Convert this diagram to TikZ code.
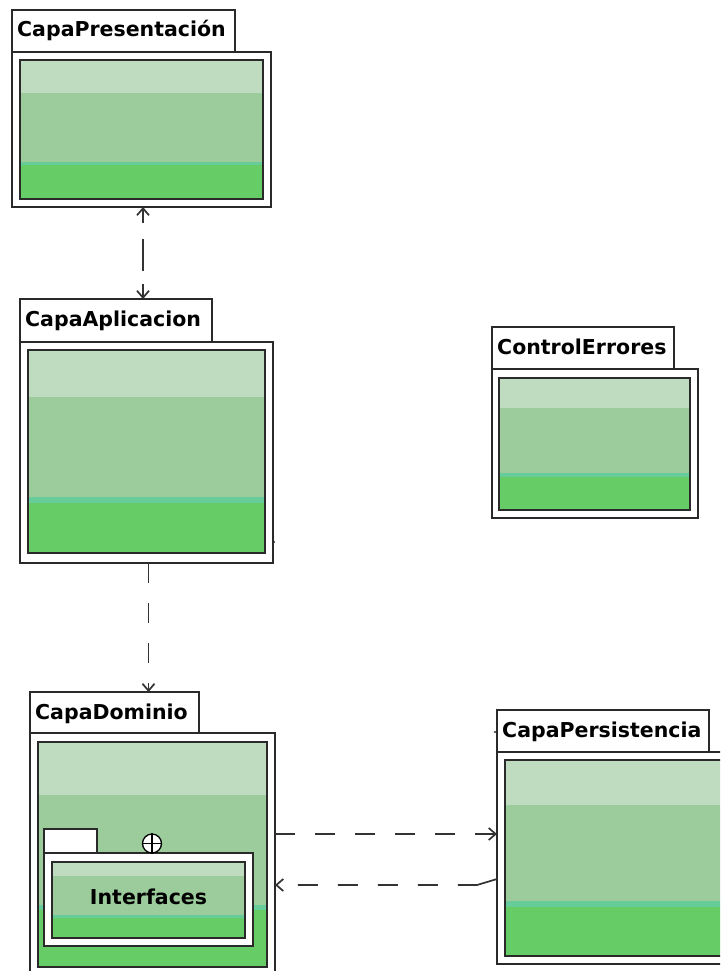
\documentclass[tikz,border=0pt]{standalone}
\usepackage{fontspec}
\setmainfont{DejaVu Sans}
\usetikzlibrary{arrows.meta,fit}

\definecolor{bandlight}{HTML}{C0DCC0}
\definecolor{bandmid}{HTML}{9CCC9C}
\definecolor{bandteal}{HTML}{66CC99}
\definecolor{bandgreen}{HTML}{66CC66}
\definecolor{edge}{HTML}{2A2A2A}

\tikzset{
  pkgbox/.style={draw=edge, line width=1.6pt, fill=white, inner sep=0pt, outer sep=0pt},
  pkglabel/.style={font=\bfseries\fontsize{20.5}{24}\selectfont, inner sep=0pt, text=black},
  innerframe/.style={draw=edge, line width=1.6pt},
  dep/.style={draw=black!80, line width=1.7pt, dash pattern=on 20pt off 20pt},
}

% UML package: tab + body, with its name in the tab
% #1 id, #2 name, #3/#4 tab left/top, #5/#6 tab right/bottom, #7/#8 body right/bottom
\newcommand\umlpkg[8]{%
  \node[pkgbox, fit={(#3,#4)(#5,#6)}] (#1tab) {};
  \node[pkgbox, fit={(#3,#6)(#7,#8)}] (#1) {};
  \node[pkglabel, anchor=base west] (#1lbl) at (#3+5,#4+27) {#2};
}

% coloured compartments inside a package body
% #1..#4 inner frame, #5 end of light band, #6/#7 thin teal band
\newcommand\pkgbands[7]{%
  \fill[bandlight] (#1,#2) rectangle (#3,#5);
  \fill[bandmid] (#1,#5) rectangle (#3,#6);
  \fill[bandteal] (#1,#6) rectangle (#3,#7);
  \fill[bandgreen] (#1,#7) rectangle (#3,#4);
  \draw[innerframe] (#1,#2) rectangle (#3,#4);
}

\begin{document}
\begin{tikzpicture}[x=1pt, y=-1pt, >={Straight Barb[length=7pt,width=12pt]}]
\clip (0,0) rectangle (720,971);
\fill[white] (0,0) rectangle (720,971);

% packages
\umlpkg{pres}{CapaPresentación}{12}{10}{235}{52}{271}{207}
\pkgbands{20}{60}{263}{199}{93}{162}{165}

\umlpkg{apl}{CapaAplicacion}{20}{299}{212}{342}{273}{563}
\pkgbands{28}{350}{265}{553}{397}{497}{503}

\umlpkg{err}{ControlErrores}{492}{327}{674}{369}{698}{518}
\pkgbands{499}{378}{690}{510}{408}{473}{477}

\umlpkg{dom}{CapaDominio}{30}{692}{199}{733}{275}{976}
\pkgbands{38}{742}{267}{967}{795}{905}{910}

\umlpkg{pers}{CapaPersistencia}{497}{710}{709}{752}{740}{964}
\pkgbands{505}{760}{740}{956}{805}{901}{907}

% nested package Interfaces
\node[pkgbox, fit={(44,829)(97,853)}] (intftab) {};
\node[pkgbox, fit={(44,853)(253,946)}] (intf) {};
\pkgbands{52}{862}{245}{938}{876}{915}{918}
\node[pkglabel, anchor=base] (intflbl) at (148.5,904) {Interfaces};
\node[circle, draw=black, line width=1.3pt, fill=white, minimum size=19pt, inner sep=0pt] (nest) at (152,843.5) {};
\draw[line width=1.3pt] (nest.north) -- (nest.south) (nest.west) -- (nest.east);

% small marks
\fill[edge] (274,542) circle (1.1pt);
\fill[edge] (495,732) circle (1.1pt);

% dependencies
\draw[dep, <->, dash pattern=on 14pt off 16pt on 32pt off 13pt on 30pt]
  ([xshift=1.5pt]pres.south) -- ([xshift=1.5pt]pres.south |- apltab.north);
\draw[dep, ->] ([xshift=2pt]apl.south) -- ([xshift=2pt]apl.south |- domtab.north);
\draw[dep, ->] ([yshift=20.5pt]dom.east) -- ([yshift=20.5pt]dom.east -| pers.west);
\draw[dep, ->, dash pattern=on 40pt off 20pt on 20pt off 20pt on 20pt off 20pt on 20pt off 20pt on 20pt off 20pt on 20pt off 20pt]
  ([yshift=-21pt]pers.west) -- ++(-20,6) coordinate (bend) -- (bend -| dom.east);
\end{tikzpicture}
\end{document}
